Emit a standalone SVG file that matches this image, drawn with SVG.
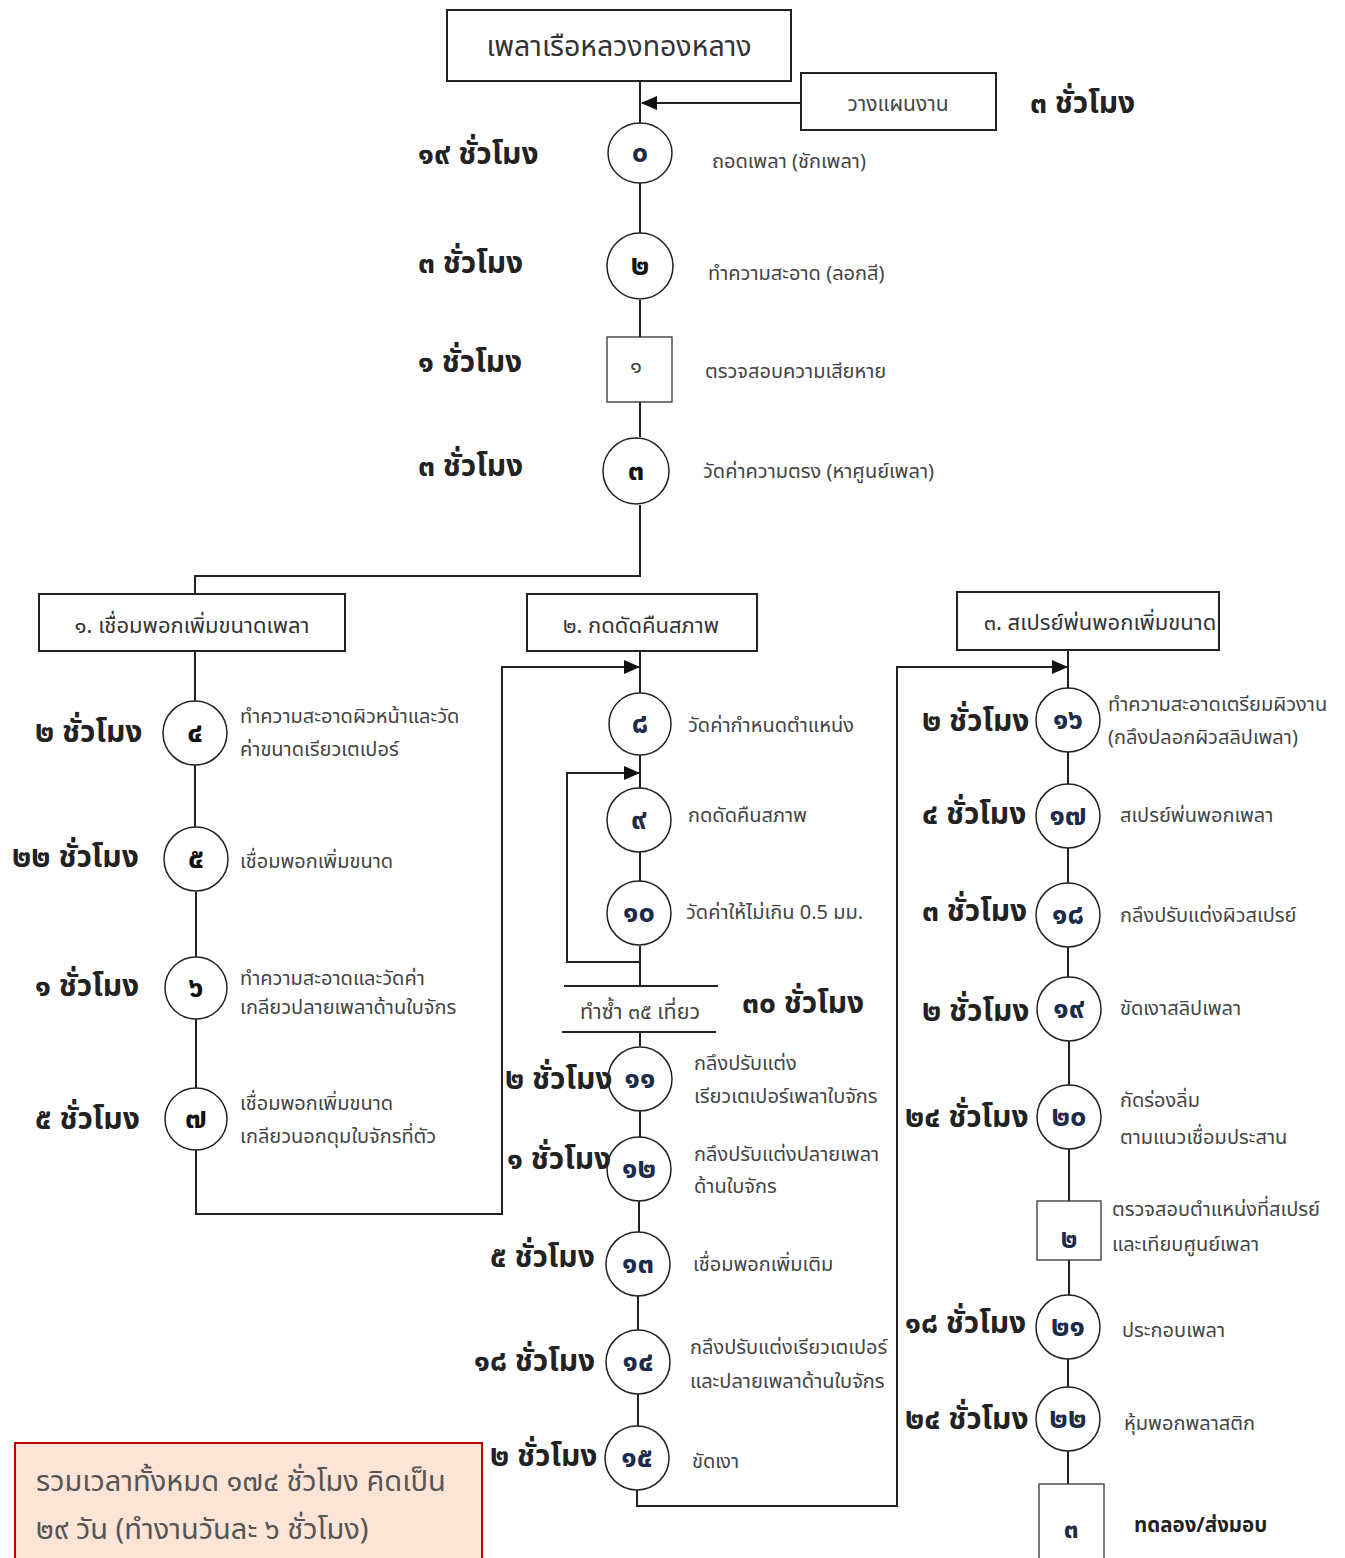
<svg xmlns="http://www.w3.org/2000/svg" width="1345" height="1558" viewBox="0 0 1345 1558">
<style>
text{font-family:"Noto Sans Thai","Noto Sans","Liberation Sans",sans-serif;dominant-baseline:central}
.lbl{font-size:20px;fill:#444}
.hr{font-size:30px;font-weight:bold;fill:#222}
.num{font-size:29px;font-weight:bold;fill:#1c2b4a;text-anchor:middle}
.box{fill:#fff;stroke:#222;stroke-width:2}
.sq{fill:#fff;stroke:#333;stroke-width:1.3}
.c{fill:#fff;stroke:#222;stroke-width:1.5}
.hd{font-size:22px;fill:#333;text-anchor:middle}
.ln{fill:none;stroke:#222;stroke-width:2}
</style>
<defs>
<marker id="ar2" markerWidth="16" markerHeight="14" refX="15" refY="7" orient="auto" markerUnits="userSpaceOnUse"><path d="M0,0 L16,7 L0,14 z" fill="#111"/></marker>
</defs>
<g id="connectors">
<path class="ln" d="M640,81 V123"/>
<path class="ln" d="M801,103 H642" marker-end="url(#ar2)"/>
<path class="ln" d="M640,183 V233"/>
<path class="ln" d="M640,300 V337"/>
<path class="ln" d="M640,402 V437"/>
<path class="ln" d="M640,505 V576 H195 V594"/>
<path class="ln" d="M195,651 V703"/>
<path class="ln" d="M195,763 V827"/>
<path class="ln" d="M196,892 V958"/>
<path class="ln" d="M196,1018 V1089"/>
<path class="ln" d="M196,1149 V1214 H502 V667 H639" marker-end="url(#ar2)"/>
<path class="ln" d="M640,651 V694"/>
<path class="ln" d="M640,755 V788"/>
<path class="ln" d="M640,962 H567 V773 H639" marker-end="url(#ar2)"/>
<path class="ln" d="M640,852 V881"/>
<path class="ln" d="M640,946 V986"/>
<path class="ln" d="M564,986 H718"/>
<path class="ln" d="M562,1032 H716"/>
<path class="ln" d="M640,1032 V1046"/>
<path class="ln" d="M640,1111 V1138"/>
<path class="ln" d="M639,1201 V1232"/>
<path class="ln" d="M638,1295 V1330"/>
<path class="ln" d="M638,1393 V1426"/>
<path class="ln" d="M637,1490 V1506 H897 V667 H1067" marker-end="url(#ar2)"/>
<path class="ln" d="M1068,650 V688"/>
<path class="ln" d="M1068,752 V784"/>
<path class="ln" d="M1068,848 V883"/>
<path class="ln" d="M1068,947 V977"/>
<path class="ln" d="M1069,1041 V1085"/>
<path class="ln" d="M1069,1149 V1201"/>
<path class="ln" d="M1069,1260 V1295"/>
<path class="ln" d="M1068,1359 V1387"/>
<path class="ln" d="M1068,1451 V1484"/>
</g>
<g id="n-title"><rect class="box" x="447" y="10" width="344" height="71"/><text x="619" y="47" font-size="28.5" fill="#333" text-anchor="middle">เพลาเรือหลวงทองหลาง</text></g>
<g id="n-plan"><rect class="box" x="801" y="73" width="195" height="57"/><text x="898" y="104" font-size="21" fill="#444" text-anchor="middle">วางแผนงาน</text><text class="hr" x="1030" y="104">๓ ชั่วโมง</text></g>
<g id="n0"><ellipse class="c" cx="640" cy="153" rx="32" ry="30"/><text class="num" x="640" y="153">๐</text><text class="lbl" x="712" y="162">ถอดเพลา (ชักเพลา)</text><text class="hr" x="418" y="155">๑๙ ชั่วโมง</text></g>
<g id="n2"><circle class="c" cx="640" cy="266" r="33"/><text class="num" x="640" y="266" style="fill:#111">๒</text><text class="lbl" x="708" y="274">ทำความสะอาด (ลอกสี)</text><text class="hr" x="418" y="264">๓ ชั่วโมง</text></g>
<g id="n1"><rect class="sq" x="607" y="337" width="65" height="65"/><text x="636" y="366" font-size="22" fill="#444" text-anchor="middle">๑</text><text class="lbl" x="705" y="372">ตรวจสอบความเสียหาย</text><text class="hr" x="418" y="363">๑ ชั่วโมง</text></g>
<g id="n3"><circle class="c" cx="636" cy="471" r="33"/><text class="num" x="636" y="471" style="fill:#111">๓</text><text class="lbl" x="703" y="472">วัดค่าความตรง (หาศูนย์เพลา)</text><text class="hr" x="418" y="467">๓ ชั่วโมง</text></g>
<g id="h1"><rect class="box" x="39" y="594" width="306" height="57"/><text class="hd" x="192" y="626">๑. เชื่อมพอกเพิ่มขนาดเพลา</text></g>
<g id="h2"><rect class="box" x="527" y="594" width="230" height="57"/><text class="hd" x="641" y="626">๒. กดดัดคืนสภาพ</text></g>
<g id="h3"><rect class="box" x="957" y="592" width="262" height="58"/><text class="hd" x="1100" y="623">๓. สเปรย์พ่นพอกเพิ่มขนาด</text></g>
<g id="n4"><circle class="c" cx="195" cy="733" r="32"/><text class="num" x="195" y="733" style="fill:#111">๔</text><text class="lbl" x="240" y="717">ทำความสะอาดผิวหน้าและวัด</text><text class="lbl" x="240" y="750">ค่าขนาดเรียวเตเปอร์</text><text class="hr" x="35" y="733">๒ ชั่วโมง</text></g>
<g id="n5"><circle class="c" cx="196" cy="859" r="32"/><text class="num" x="196" y="859" style="fill:#111">๕</text><text class="lbl" x="240" y="862">เชื่อมพอกเพิ่มขนาด</text><text class="hr" x="12" y="858">๒๒ ชั่วโมง</text></g>
<g id="n6"><circle class="c" cx="196" cy="988" r="31"/><text class="num" x="196" y="988" style="fill:#111">๖</text><text class="lbl" x="240" y="979">ทำความสะอาดและวัดค่า</text><text class="lbl" x="240" y="1008">เกลียวปลายเพลาด้านใบจักร</text><text class="hr" x="35" y="987">๑ ชั่วโมง</text></g>
<g id="n7"><circle class="c" cx="196" cy="1119" r="31"/><text class="num" x="196" y="1119" style="fill:#111">๗</text><text class="lbl" x="240" y="1104">เชื่อมพอกเพิ่มขนาด</text><text class="lbl" x="240" y="1137">เกลียวนอกดุมใบจักรที่ตัว</text><text class="hr" x="35" y="1120">๕ ชั่วโมง</text></g>
<g id="n8"><circle class="c" cx="640" cy="724" r="31"/><text class="num" x="640" y="724">๘</text><text class="lbl" x="688" y="726">วัดค่ากำหนดตำแหน่ง</text></g>
<g id="n9"><circle class="c" cx="639" cy="820" r="32"/><text class="num" x="639" y="820">๙</text><text class="lbl" x="688" y="816">กดดัดคืนสภาพ</text></g>
<g id="n10"><circle class="c" cx="639" cy="913" r="32"/><text class="num" x="639" y="913">๑๐</text><text class="lbl" x="686" y="913">วัดค่าให้ไม่เกิน 0.5 มม.</text></g>
<g id="rep"><text x="640" y="1012" font-size="21.5" fill="#444" text-anchor="middle">ทำซ้ำ ๓๕ เที่ยว</text><text class="hr" x="742" y="1004">๓๐ ชั่วโมง</text></g>
<g id="n11"><circle class="c" cx="640" cy="1079" r="32"/><text class="num" x="640" y="1079">๑๑</text><text class="lbl" x="694" y="1064">กลึงปรับแต่ง</text><text class="lbl" x="694" y="1097">เรียวเตเปอร์เพลาใบจักร</text><text class="hr" x="505" y="1080">๒ ชั่วโมง</text></g>
<g id="n12"><circle class="c" cx="639" cy="1169" r="32"/><text class="num" x="639" y="1169">๑๒</text><text class="lbl" x="694" y="1155">กลึงปรับแต่งปลายเพลา</text><text class="lbl" x="694" y="1187">ด้านใบจักร</text><text class="hr" x="507" y="1160">๑ ชั่วโมง</text></g>
<g id="n13"><circle class="c" cx="638" cy="1264" r="32"/><text class="num" x="638" y="1264">๑๓</text><text class="lbl" x="693" y="1265">เชื่อมพอกเพิ่มเติม</text><text class="hr" x="490" y="1258">๕ ชั่วโมง</text></g>
<g id="n14"><circle class="c" cx="638" cy="1362" r="32"/><text class="num" x="638" y="1362">๑๔</text><text class="lbl" x="690" y="1348">กลึงปรับแต่งเรียวเตเปอร์</text><text class="lbl" x="690" y="1382">และปลายเพลาด้านใบจักร</text><text class="hr" x="474" y="1362">๑๘ ชั่วโมง</text></g>
<g id="n15"><circle class="c" cx="637" cy="1458" r="32"/><text class="num" x="637" y="1458">๑๕</text><text class="lbl" x="692" y="1462">ขัดเงา</text><text class="hr" x="490" y="1457">๒ ชั่วโมง</text></g>
<g id="n16"><circle class="c" cx="1068" cy="720" r="32"/><text class="num" x="1068" y="720">๑๖</text><text class="lbl" x="1108" y="705">ทำความสะอาดเตรียมผิวงาน</text><text class="lbl" x="1108" y="738">(กลึงปลอกผิวสลิปเพลา)</text><text class="hr" x="922" y="722">๒ ชั่วโมง</text></g>
<g id="n17"><circle class="c" cx="1068" cy="816" r="32"/><text class="num" x="1068" y="816">๑๗</text><text class="lbl" x="1120" y="816">สเปรย์พ่นพอกเพลา</text><text class="hr" x="922" y="815">๔ ชั่วโมง</text></g>
<g id="n18"><circle class="c" cx="1068" cy="915" r="32"/><text class="num" x="1068" y="915">๑๘</text><text class="lbl" x="1120" y="916">กลึงปรับแต่งผิวสเปรย์</text><text class="hr" x="922" y="912">๓ ชั่วโมง</text></g>
<g id="n19"><circle class="c" cx="1069" cy="1009" r="32"/><text class="num" x="1069" y="1009">๑๙</text><text class="lbl" x="1120" y="1009">ขัดเงาสลิปเพลา</text><text class="hr" x="922" y="1012">๒ ชั่วโมง</text></g>
<g id="n20"><circle class="c" cx="1069" cy="1117" r="32"/><text class="num" x="1069" y="1117">๒๐</text><text class="lbl" x="1120" y="1101">กัดร่องลิ่ม</text><text class="lbl" x="1120" y="1138">ตามแนวเชื่อมประสาน</text><text class="hr" x="905" y="1118">๒๔ ชั่วโมง</text></g>
<g id="s2"><rect class="sq" x="1037" y="1201" width="64" height="59"/><text class="num" x="1069" y="1240" style="font-size:26px">๒</text><text class="lbl" x="1112" y="1210">ตรวจสอบตำแหน่งที่สเปรย์</text><text class="lbl" x="1112" y="1245">และเทียบศูนย์เพลา</text></g>
<g id="n21"><circle class="c" cx="1068" cy="1327" r="32"/><text class="num" x="1068" y="1327">๒๑</text><text class="lbl" x="1122" y="1331">ประกอบเพลา</text><text class="hr" x="905" y="1324">๑๘ ชั่วโมง</text></g>
<g id="n22"><circle class="c" cx="1068" cy="1419" r="32"/><text class="num" x="1068" y="1419">๒๒</text><text class="lbl" x="1124" y="1424">หุ้มพอกพลาสติก</text><text class="hr" x="905" y="1420">๒๔ ชั่วโมง</text></g>
<g id="s3"><rect class="sq" x="1039" y="1484" width="65" height="80"/><text class="num" x="1071" y="1530" style="font-size:26px">๓</text><text x="1134" y="1525" font-size="20.5" font-weight="bold" fill="#222">ทดลอง/ส่งมอบ</text></g>
<g id="total"><rect x="15" y="1443" width="467" height="120" fill="#fce4d6" stroke="#c00000" stroke-width="2"/><text x="36" y="1482" font-size="29" fill="#555">รวมเวลาทั้งหมด ๑๗๔ ชั่วโมง คิดเป็น</text><text x="36" y="1530" font-size="29" fill="#555">๒๙ วัน (ทำงานวันละ ๖ ชั่วโมง)</text></g>
</svg>
